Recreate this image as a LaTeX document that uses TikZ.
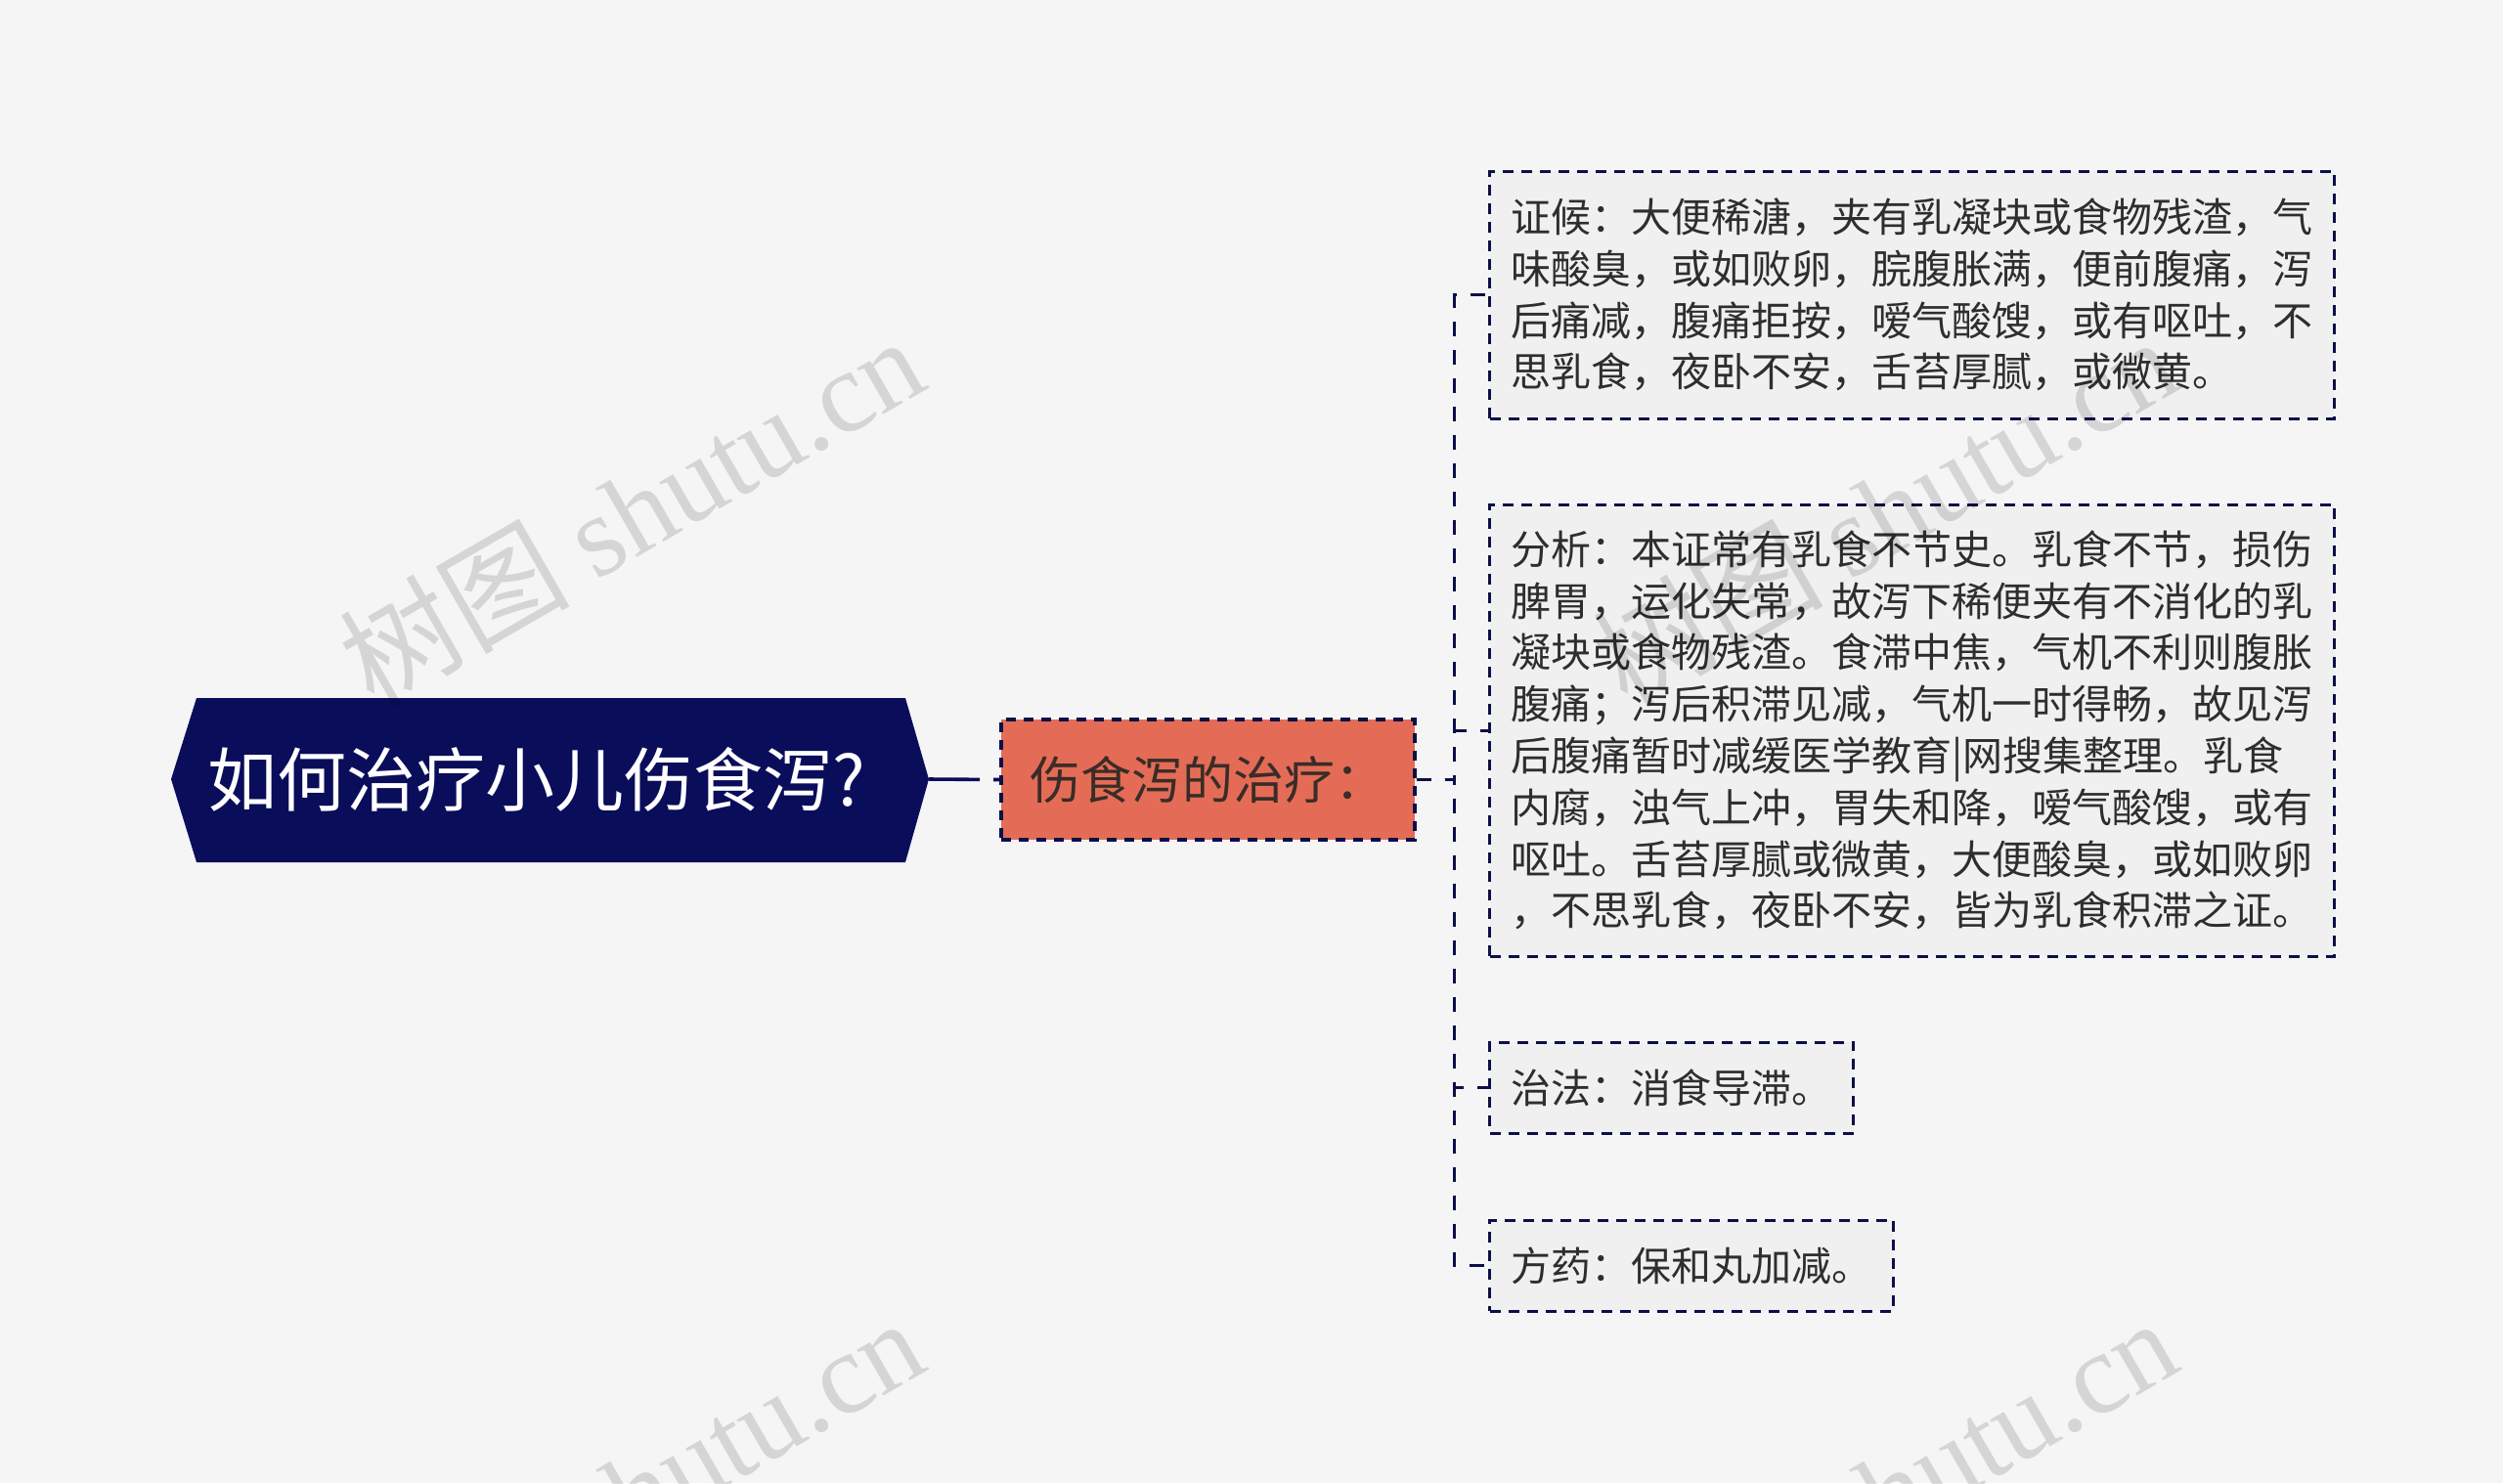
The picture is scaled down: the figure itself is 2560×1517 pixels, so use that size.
\documentclass[tikz,border=0pt]{standalone}
\usepackage{fontspec}
\setmainfont{Noto Sans CJK SC}
\newfontfamily\wmserif{Liberation Serif}
\definecolor{bgc}{HTML}{F5F5F5}
\definecolor{navy}{HTML}{0A0D5A}
\definecolor{border}{HTML}{0C1048}
\definecolor{orangefill}{HTML}{E46C56}
\definecolor{leaffill}{HTML}{F0F0F0}
\definecolor{txt}{HTML}{2E2E2E}
\definecolor{midtxt}{HTML}{3A2C28}
\begin{document}
\begin{tikzpicture}[x=0.5pt,y=-0.5pt,
  leafbox/.style={draw=border, line width=1.5pt, dash pattern=on 5.5pt off 4pt,
    fill=leaffill, font=\fontsize{20.5pt}{26.4pt}\selectfont, text=txt,
    inner xsep=11pt, inner ysep=0pt, anchor=west, align=left, minimum height=46.5pt},
  midbox/.style={draw=border, line width=1.6pt, dash pattern=on 5pt off 4pt,
    fill=orangefill, font=\fontsize{26pt}{30pt}\selectfont, text=midtxt,
    inner sep=0pt, minimum width=211.5pt, minimum height=61.5pt},
  roottext/.style={text=white, font=\fontsize{35.5pt}{40pt}\selectfont, inner sep=0pt},
  conn/.style={draw=border, line width=1.5pt, dash pattern=on 7.5pt off 7pt},
  rootconn/.style={draw=navy, line width=1.8pt, dash pattern=on 26pt off 7pt on 6pt off 10pt},
  wm/.style={text=black, text opacity=0.13, font=\fontsize{59pt}{66pt}\selectfont, inner sep=0pt, rotate=30}
]
\clip (0,0) rectangle (2560,1517);
\fill[bgc] (0,0) rectangle (2560,1517);

% root hexagon
\fill[navy] (175,797) -- (201,714) -- (926,714) -- (950,797) -- (926,882) -- (201,882) -- cycle;
\coordinate (rootE) at (950,797);
\node[roottext] (root) at (549,797) {如何治疗小儿伤食泻?};

% middle node
\node[midbox] (mid) at (1235.5,797.5) {伤食泻的治疗：};
\draw[rootconn] (rootE) -- (mid.west);

% leaves
\node[leafbox, text width=410pt, minimum height=126.5pt] (b1) at (1522,301.5) {证候：大便稀溏，夹有乳凝块或食物残渣，气\\%
味酸臭，或如败卵，脘腹胀满，便前腹痛，泻\\%
后痛减，腹痛拒按，嗳气酸馊，或有呕吐，不\\%
思乳食，夜卧不安，舌苔厚腻，或微黄。};
\node[leafbox, text width=410pt, minimum height=231pt] (b2) at (1522,747) {分析：本证常有乳食不节史。乳食不节，损伤\\%
脾胃，运化失常，故泻下稀便夹有不消化的乳\\%
凝块或食物残渣。食滞中焦，气机不利则腹胀\\%
腹痛；泻后积滞见减，气机一时得畅，故见泻\\%
后腹痛暂时减缓医学教育|网搜集整理。乳食\\%
内腐，浊气上冲，胃失和降，嗳气酸馊，或有\\%
呕吐。舌苔厚腻或微黄，大便酸臭，或如败卵\\%
，不思乳食，夜卧不安，皆为乳食积滞之证。};
\node[leafbox] (b3) at (1522,1112.5) {治法：消食导滞。};
\node[leafbox] (b4) at (1522,1294.5) {方药：保和丸加减。};

% connectors
\draw[conn] (mid.east) -- ++(39,0) |- (b1.west);
\draw[conn] (mid.east) -- ++(39,0) |- (b2.west);
\draw[conn] (mid.east) -- ++(39,0) |- (b3.west);
\draw[conn] (mid.east) -- ++(39,0) |- (b4.west);

% watermarks
\node[wm] (wm1) at (645,522) {树图 {\wmserif shutu.cn}};
\node[wm] (wm2) at (1927,522) {树图 {\wmserif shutu.cn}};
\node[wm] (wm3) at (645,1526) {树图 {\wmserif shutu.cn}};
\node[wm] (wm4) at (1927,1526) {树图 {\wmserif shutu.cn}};
\end{tikzpicture}
\end{document}
